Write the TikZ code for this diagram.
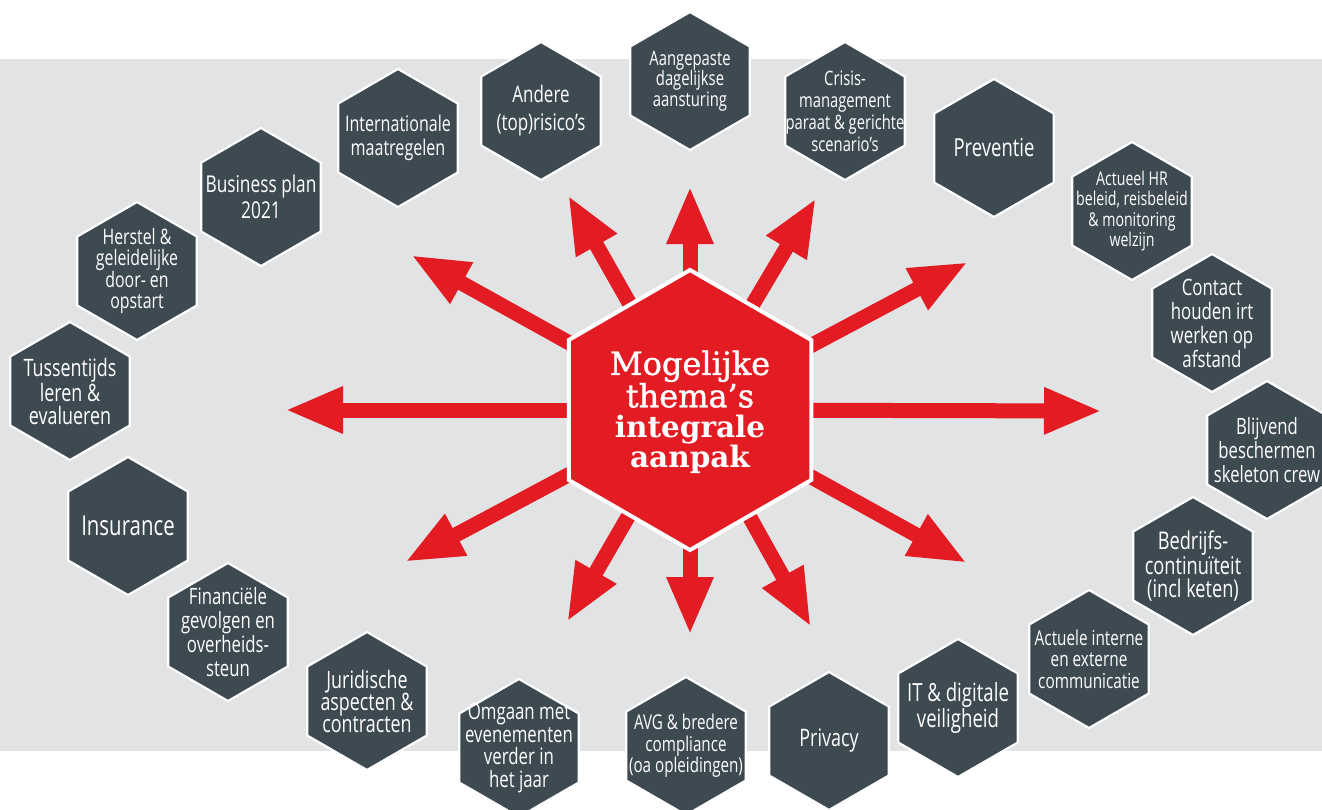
\documentclass[tikz,border=0pt]{standalone}
\usepackage{fontspec}
\usetikzlibrary{shapes.geometric,arrows.meta}
\newfontfamily\condfont[FakeStretch=0.745]{Open Sans}
\newfontfamily\slabfont[FakeBold=1.2]{DejaVu Serif}
\newfontfamily\slabbold{DejaVu Serif Bold}
\definecolor{slate}{HTML}{3D4A51}
\definecolor{bandgray}{HTML}{E2E3E5}
\definecolor{hexred}{HTML}{E31B23}
\tikzset{
  hexa/.style={regular polygon, regular polygon sides=6, shape border rotate=30,
    minimum size=138pt, inner sep=0pt, fill=slate, draw=white, line width=2.2pt},
  hexlabel/.style args={#1/#2}{text=white, align=center, inner sep=0pt,
    font=\condfont\fontsize{#1}{#2}\selectfont},
  ray/.style={draw=hexred, line width=15pt, -{Triangle[length=58pt,width=43pt]}},
  bighex/.style={regular polygon, regular polygon sides=6, shape border rotate=30,
    minimum size=280pt, inner sep=0pt, fill=hexred, draw=white, line width=4pt},
  bigtext/.style={text=white, align=center, inner sep=0pt,
    font=\fontsize{31}{30}\selectfont}
}
\begin{document}
\begin{tikzpicture}[x=1pt,y=-1pt]
\useasboundingbox (0,0) rectangle (1322,809);
\fill[bandgray] (0,59) rectangle (1322,751);
% centre and arrow tips
\coordinate (ctr) at (690,410);
\coordinate (tA) at (411,255);
\coordinate (tB) at (568,195);
\coordinate (tC) at (690,186);
\coordinate (tD) at (816,198);
\coordinate (tE) at (968,262);
\coordinate (tF) at (1102,411);
\coordinate (tG) at (967,563);
\coordinate (tH) at (811,627);
\coordinate (tI) at (690,635);
\coordinate (tJ) at (567,622);
\coordinate (tK) at (405,562);
\coordinate (tL) at (285,410);
\foreach \t in {tA,tB,tC,tD,tE,tF,tG,tH,tI,tJ,tK,tL}
  \draw[ray] (ctr) -- (\t);
% central hexagon
\node[bighex] (mid) at (ctr) {};
\node[bigtext] (midtext) at ([yshift=-2pt]mid.center) {{\slabfont\fontsize{32}{30}\selectfont Mogelijke}\\{\slabfont\fontsize{32}{30}\selectfont thema’s}\\{\slabbold\fontsize{29.5}{30}\selectfont integrale}\\{\slabbold\fontsize{29.5}{30}\selectfont aanpak}};
% outer hexagons
\node[hexa] (h1) at (398,138) {};
\node[hexlabel=21.6/24] (l1) at (h1) {Internationale\\maatregelen};
\node[hexa] (h2) at (541,111) {};
\node[hexlabel=22.8/28] (l2) at (h2) {Andere\\(top)risico’s};
\node[hexa] (h3) at (690,81) {};
\node[hexlabel=19.9/20.5] (l3) at (h3) {Aangepaste\\dagelijkse\\aansturing};
\node[hexa] (h4) at (845,111) {};
\node[hexlabel=19.8/22] (l4) at (h4) {Crisis-\\management\\paraat \& gerichte\\scenario’s};
\node[hexa] (h5) at (994,148) {};
\node[hexlabel=24.8/26] (l5) at (h5) {Preventie};
\node[hexa] (h6) at (1132,211) {};
\node[hexlabel=19/20.5] (l6) at (h6) {Actueel HR\\beleid, reisbeleid\\\& monitoring\\welzijn};
\node[hexa] (h7) at (1212,323) {};
\node[hexlabel=22.6/24] (l7) at (h7) {Contact\\houden irt\\werken op\\afstand};
\node[hexa] (h8) at (1267,450) {};
\node[hexlabel=22.4/24] (l8) at (h8) {Blijvend\\beschermen\\skeleton crew};
\node[hexa] (h9) at (1193,566) {};
\node[hexlabel=24.4/23.5] (l9) at (h9) {Bedrijfs-\\continuïteit\\(incl keten)};
\node[hexa] (h10) at (1089,659) {};
\node[hexlabel=20.6/21.5] (l10) at (h10) {Actuele interne\\en externe\\communicatie};
\node[hexa] (h11) at (958,708) {};
\node[hexlabel=25/23] (l11) at (h11) {IT \& digitale\\veiligheid};
\node[hexa] (h12) at (829,741) {};
\node[hexlabel=24.1/26] (l12) at (h12) {Privacy};
\node[hexa] (h13) at (686,746) {};
\node[hexlabel=20.4/21.5] (l13) at (h13) {AVG \& bredere\\compliance\\(oa opleidingen)};
\node[hexa] (h14) at (519,748) {};
\node[hexlabel=22.6/22.5] (l14) at (h14) {Omgaan met\\evenementen\\verder in\\het jaar};
\node[hexa] (h15) at (367,701) {};
\node[hexlabel=24/22] (l15) at (h15) {Juridische\\aspecten \&\\contracten};
\node[hexa] (h16) at (228,632) {};
\node[hexlabel=22.5/24] (l16) at (h16) {Financiële\\gevolgen en\\overheids-\\steun};
\node[hexa] (h17) at (128,526) {};
\node[hexlabel=27.4/26] (l17) at (h17) {Insurance};
\node[hexa] (h18) at (70,391) {};
\node[hexlabel=24/23] (l18) at (h18) {Tussentijds\\leren \&\\evalueren};
\node[hexa] (h19) at (137,271) {};
\node[hexlabel=21.3/21] (l19) at (h19) {Herstel \&\\geleidelijke\\door- en\\opstart};
\node[hexa] (h20) at (261,197) {};
\node[hexlabel=23.2/26] (l20) at (h20) {Business plan\\2021};
\end{tikzpicture}
\end{document}
